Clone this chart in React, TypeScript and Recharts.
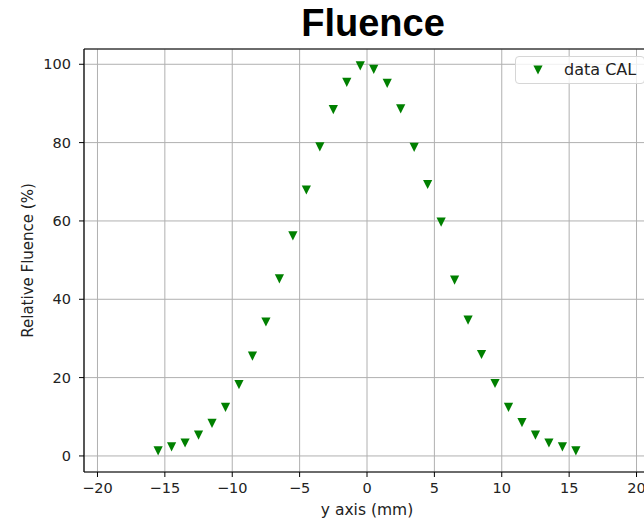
import { ScatterChart, Scatter, XAxis, YAxis, CartesianGrid, Legend, ReferenceLine } from 'recharts';

// positions along the profile (mm) and measured relative fluence (%)
const POSITIONS = [
  -15.5, -14.5, -13.5, -12.5, -11.5, -10.5, -9.5, -8.5, -7.5, -6.5, -5.5, -4.5, -3.5, -2.5, -1.5, -0.5,
  0.5, 1.5, 2.5, 3.5, 4.5, 5.5, 6.5, 7.5, 8.5, 9.5, 10.5, 11.5, 12.5, 13.5, 14.5, 15.5,
];
const FLUENCE = [
  1.3, 2.3, 3.3, 5.3, 8.3, 12.4, 18.2, 25.5, 34.2, 45.2, 56.2, 67.9, 78.9, 88.4, 95.4, 99.6,
  98.7, 95.1, 88.6, 78.8, 69.3, 59.7, 44.9, 34.7, 25.9, 18.5, 12.4, 8.5, 5.3, 3.3, 2.3, 1.3,
];
const X_TICKS = [-20, -15, -10, -5, 0, 5, 10, 15, 20];
const Y_TICKS = [0, 20, 40, 60, 80, 100];
const X_DOMAIN = [-21, 21];
const Y_DOMAIN = [-4.1, 103.9];

const data = POSITIONS.map((x, i) => ({ x, y: FLUENCE[i] }));

const GREEN = '#008000';
const TICK_FONT = { fill: '#222', fontSize: 14.5, fontFamily: 'DejaVu Sans' };
const minus = (v: number) => String(v).replace('-', '\u2212');

// matplotlib 'v' marker
// eslint-disable-next-line @typescript-eslint/no-explicit-any
const TriangleDown = (props: any) => {
  const { cx, cy } = props;
  const h = 4.6;
  return <polygon points={`${cx - h},${cy - h} ${cx + h},${cy - h} ${cx},${cy + h}`} fill={GREEN} />;
};

// eslint-disable-next-line @typescript-eslint/no-explicit-any
const LegendBox = ({ payload }: any) => {
  const item = payload && payload[0];
  return (
    <div
      style={{
        width: 130,
        height: 28,
        boxSizing: 'border-box',
        border: '1px solid #d6d6d6',
        borderRadius: 4,
        background: 'rgba(255,255,255,0.8)',
        position: 'relative',
        fontFamily: 'DejaVu Sans',
        fontSize: 16,
        color: '#222',
      }}
    >
      <svg width={20} height={20} style={{ position: 'absolute', left: 12, top: 3 }}>
        <polygon points="5.4,5.4 14.6,5.4 10,14.6" fill={item ? item.color : GREEN} />
      </svg>
      <span style={{ position: 'absolute', left: 48, top: 3, whiteSpace: 'nowrap' }}>{item ? item.value : ''}</span>
    </div>
  );
};

// eslint-disable-next-line @typescript-eslint/no-explicit-any
const YLabel = (props: any) => {
  const vb = props.viewBox || { x: 0, y: 0, width: 84, height: 423 };
  const x = vb.x + 28;
  const y = vb.y + vb.height / 2;
  return (
    <text x={x} y={y} transform={`rotate(-90 ${x} ${y})`} textAnchor="middle" dominantBaseline="central" fill="#222" fontSize={15} fontFamily="DejaVu Sans">
      Relative Fluence (%)
    </text>
  );
};

export default function App() {
  return (
    <div style={{ position: 'absolute', left: 0, top: 0, width: 644, height: 522, overflow: 'hidden', background: '#fff' }}>
      <div
        style={{
          position: 'absolute',
          left: 373,
          top: 0,
          transform: 'translateX(-50%)',
          fontFamily: 'Liberation Sans',
          fontWeight: 'bold',
          fontSize: 38,
          lineHeight: '46px',
          color: '#000',
          whiteSpace: 'nowrap',
        }}
      >
        Fluence
      </div>
      <ScatterChart width={660} height={522} margin={{ top: 49, right: 10, bottom: 0, left: 0 }}>
        <CartesianGrid stroke="#b0b0b0" strokeWidth={1} />
        <XAxis
          type="number"
          dataKey="x"
          domain={X_DOMAIN}
          ticks={X_TICKS}
          allowDataOverflow
          height={50}
          tickSize={5}
          tickMargin={6}
          tick={TICK_FONT}
          tickFormatter={minus}
          stroke="#000"
          axisLine={{ stroke: '#000', strokeWidth: 1.2 }}
          tickLine={{ stroke: '#000' }}
          label={{ value: 'y axis (mm)', position: 'insideBottom', offset: 7, fill: '#222', fontSize: 15.5, fontFamily: 'DejaVu Sans' }}
        />
        <YAxis
          type="number"
          dataKey="y"
          domain={Y_DOMAIN}
          ticks={Y_TICKS}
          allowDataOverflow
          width={84}
          tickSize={5}
          tickMargin={8}
          tick={TICK_FONT}
          stroke="#000"
          axisLine={{ stroke: '#000', strokeWidth: 1.2 }}
          tickLine={{ stroke: '#000' }}
          label={{ content: YLabel }}
        />
        <ReferenceLine y={Y_DOMAIN[1]} stroke="#000" strokeWidth={1.2} />
        <Legend
          layout="horizontal"
          verticalAlign="middle"
          align="center"
          content={LegendBox}
          wrapperStyle={{ position: 'absolute', left: 515, top: 56, width: 130 }}
        />
        <Scatter name="data CAL" data={data} fill={GREEN} shape={TriangleDown} isAnimationActive={false} />
      </ScatterChart>
    </div>
  );
}
